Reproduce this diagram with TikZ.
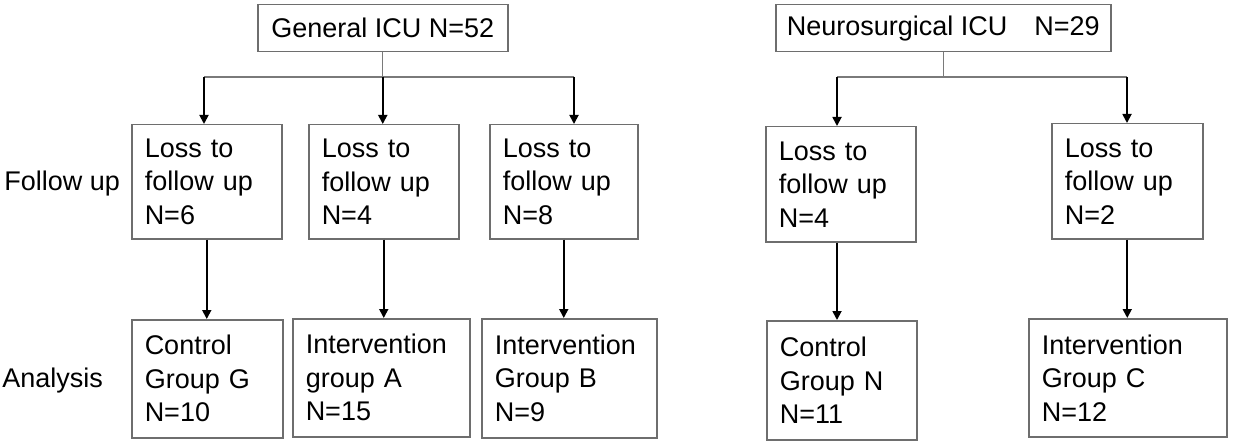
\documentclass[tikz,border=0pt]{standalone}
\usepackage{fontspec}
\setmainfont{Liberation Sans}
\usetikzlibrary{arrows.meta}
\definecolor{boxgray}{HTML}{6E6E6E}
\definecolor{linegray}{HTML}{7A7A7A}
\begin{document}
\begin{tikzpicture}[x=0.5pt, y=-0.5pt]
\tikzstyle{every node}=[font=\fontsize{13.5pt}{16.75pt}\selectfont, inner sep=0pt];
\tikzstyle{unit}=[draw=boxgray, line width=0.75pt, anchor=north west, align=center];
\tikzstyle{stage}=[draw=boxgray, line width=0.75pt, anchor=north west, align=left, inner xsep=6.5pt];
\tikzstyle{link}=[draw=linegray, line width=0.6pt];
\tikzstyle{arr}=[line width=0.9pt, -{Triangle[length=4.5pt,width=4.5pt]}];
\useasboundingbox (0,0) rectangle (1235,443);
% wards
\node [unit, minimum width=125pt, minimum height=23.5pt] (gicu) at (257,4) {General ICU N=52};
\node [unit, minimum width=167.5pt, minimum height=23.5pt] (nicu) at (775,4) {Neurosurgical ICU\quad N=29};
% row labels
\node [anchor=base west] (fu) at (4,191) {Follow up};
\node [anchor=base west] (an) at (2,387) {Analysis};
% follow up
\node [stage, text width=62pt, minimum height=57pt] (g1) at (131,124) {Loss to\\follow up\\N=6};
\node [stage, text width=62pt, minimum height=57pt] (g2) at (308,124) {Loss to\\follow up\\N=4};
\node [stage, text width=61pt, minimum height=57pt] (g3) at (489,124) {Loss to\\follow up\\N=8};
\node [stage, text width=62pt, minimum height=57.5pt] (n1) at (765,126) {Loss to\\follow up\\N=4};
\node [stage, text width=62.5pt, minimum height=57.5pt] (n2) at (1051,123) {Loss to\\follow up\\N=2};
% analysis
\node [stage, text width=62.5pt, minimum height=59pt] (b1) at (131,319) {Control\\Group G\\N=10};
\node [stage, text width=75.5pt, minimum height=59pt] (b2) at (292,318) {Intervention\\group A\\N=15};
\node [stage, text width=74.5pt, minimum height=59.5pt] (b3) at (481,318) {Intervention\\Group B\\N=9};
\node [stage, text width=62pt, minimum height=59.5pt] (bn1) at (766,320) {Control\\Group N\\N=11};
\node [stage, text width=86pt, minimum height=59pt] (bn2) at (1028,318) {Intervention\\Group C\\N=12};
\coordinate (gl) at (204,77);
\coordinate (gr) at (574,77);
\coordinate (nl) at (837,77);
\coordinate (nr) at (1127,77);
\draw [link] (gicu) -- (gicu |- gl)
(gl) -- (gr)
(nicu) -- (nicu |- nl)
(nl) -- (nr);
\draw [arr] (gl) -- (gl |- g1.north);
\draw [arr] (gicu |- gl) -- (gicu |- g2.north);
\draw [arr] (gr) -- (gr |- g3.north);
\draw [arr] (nl) -- (nl |- n1.north);
\draw [arr] (nr) -- (nr |- n2.north);
\draw [arr] (g1) -- (g1 |- b1.north);
\draw [arr] (g2) -- (g2 |- b2.north);
\draw [arr] (g3) -- (g3 |- b3.north);
\draw [arr] (nl |- n1.south) -- (nl |- bn1.north);
\draw [arr] (n2) -- (n2 |- bn2.north);
\end{tikzpicture}
\end{document}
